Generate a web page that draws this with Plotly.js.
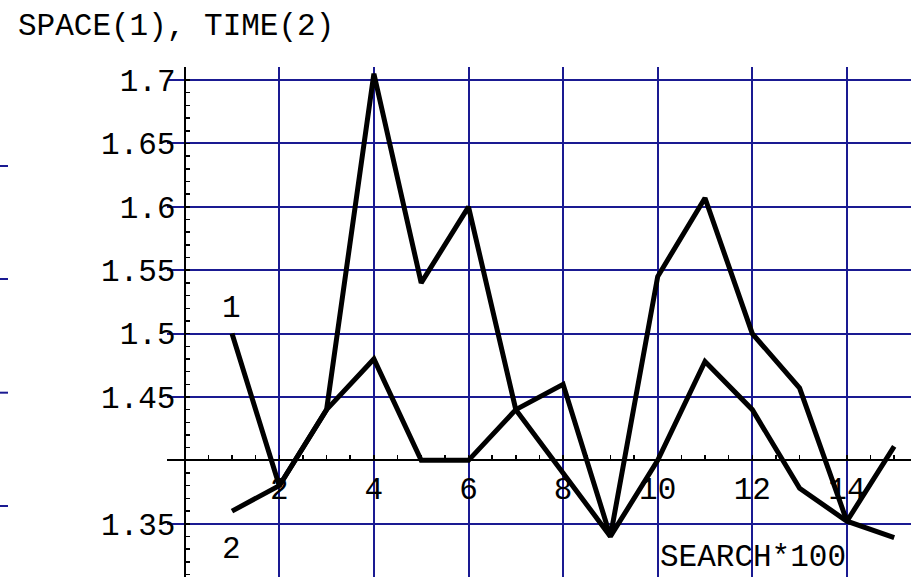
<!DOCTYPE html>
<html>
<head>
<meta charset="utf-8">
<script src="https://cdn.plot.ly/plotly-3.0.1.min.js"></script>
<style>html,body{margin:0;padding:0;background:#fff;}#chart{width:921px;height:577px;}</style>
</head>
<body>
<div id="chart"></div>
<script>
// ---- data ----
const searchX = [1,2,3,4,5,6,7,8,9,10,11,12,13,14,15];
const spaceY  = [1.50,1.38,1.44,1.705,1.54,1.60,1.44,1.39,1.34,1.545,1.607,1.50,1.457,1.352,1.411];
const timeY   = [1.36,1.38,1.44,1.48,1.40,1.40,1.44,1.46,1.34,1.40,1.478,1.44,1.378,1.352,1.339];
const xTickVals = [2,4,6,8,10,12,14];
const xTickText = ["2","4","6","8","10","12","14"];
const yTickVals = [1.35,1.45,1.5,1.55,1.6,1.65,1.7];
const yTickText = ["1.35","1.45","1.5","1.55","1.6","1.65","1.7"];
const seriesLabels = ["1","2"];
const chartTitle = "SPACE(1), TIME(2)";
const xAxisLabel = "SEARCH*100";

const MONO = "Liberation Mono, DejaVu Sans Mono, monospace";
const GRID = "#1a1a92";
const FS = 31;

const xRange = [-0.374, 15.355];
const yRange = [1.308, 1.7103];
const xOrigin = 0, yOrigin = 1.4;
const yAxisPos = (xOrigin - xRange[0]) / (xRange[1] - xRange[0]);
const xAxisPos = (yOrigin - yRange[0]) / (yRange[1] - yRange[0]);

const lineStyle = {color: "#000", width: 5};
const traces = [
  {x: searchX, y: spaceY, mode: "lines", line: lineStyle, name: "SPACE", hoverinfo: "skip"},
  {x: searchX, y: timeY,  mode: "lines", line: lineStyle, name: "TIME",  hoverinfo: "skip"}
];

const edgeShapes = [0.8059, 0.5843, 0.3614, 0.1392].map(v => ({
  type: "line", xref: "paper", yref: "paper", x0: -0.2245, x1: -0.2137, y0: v, y1: v,
  line: {color: GRID, width: 2}
}));

const layout = {
  width: 921, height: 577,
  margin: {l: 167, r: 10, t: 67, b: 0, pad: 0},
  paper_bgcolor: "#fff", plot_bgcolor: "#fff",
  showlegend: false,
  font: {family: MONO, size: FS, color: "#000"},
  title: {
    text: chartTitle, font: {family: MONO, size: FS, color: "#000"},
    xref: "container", yref: "container", x: 18/921, xanchor: "left", y: 1 - 24/577, yanchor: "middle"
  },
  xaxis: {
    range: xRange, tickmode: "array", tickvals: xTickVals, ticktext: xTickText,
    showgrid: true, gridcolor: GRID, gridwidth: 2, zeroline: false,
    showline: true, linecolor: "#000", linewidth: 2,
    anchor: "free", position: xAxisPos,
    ticks: "inside", ticklen: 4, tickwidth: 1.5, tickcolor: "#000",
    minor: {dtick: 0.5, tick0: 0, ticks: "inside", ticklen: 4, tickwidth: 1.5, tickcolor: "#000", showgrid: false},
    tickfont: {family: MONO, size: FS, color: "#000"},
    ticklabelstandoff: 0,
    layer: "below traces", fixedrange: true
  },
  yaxis: {
    range: yRange, tickmode: "array", tickvals: yTickVals, ticktext: yTickText,
    showgrid: true, gridcolor: GRID, gridwidth: 2, zeroline: false,
    showline: true, linecolor: "#000", linewidth: 2,
    anchor: "free", position: yAxisPos,
    ticks: "inside", ticklen: 4, tickwidth: 1.5, tickcolor: "#000",
    minor: {dtick: 0.01, tick0: 1.35, ticks: "inside", ticklen: 4, tickwidth: 1.5, tickcolor: "#000", showgrid: false},
    tickfont: {family: MONO, size: FS, color: "#000"},
    ticklabelstandoff: 2,
    layer: "below traces", fixedrange: true
  },
  shapes: edgeShapes,
  annotations: [
    {x: searchX[0], y: spaceY[0], xref: "x", yref: "y", text: seriesLabels[0], showarrow: false,
     yshift: 25, font: {family: MONO, size: FS, color: "#000"}},
    {x: searchX[0], y: timeY[0], xref: "x", yref: "y", text: seriesLabels[1], showarrow: false,
     yshift: -38, font: {family: MONO, size: FS, color: "#000"}},
    {x: 10, y: 1.3232, xref: "x", yref: "y", text: xAxisLabel, showarrow: false,
     xanchor: "left", yanchor: "middle", font: {family: MONO, size: FS, color: "#000"}}
  ]
};

Plotly.newPlot("chart", traces, layout, {staticPlot: true, displayModeBar: false});
</script>
</body>
</html>
